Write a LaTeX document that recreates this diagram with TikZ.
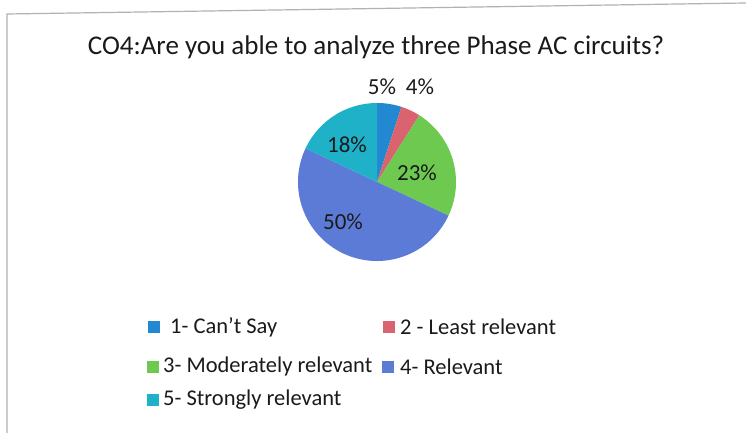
\documentclass[tikz,border=0pt]{standalone}
\usepackage{fontspec}
\setmainfont{Carlito}
\usepackage{tikz}

\definecolor{cantsay}{HTML}{2288D2}
\definecolor{least}{HTML}{D9636F}
\definecolor{moder}{HTML}{6DC94F}
\definecolor{relev}{HTML}{5B7BD6}
\definecolor{strong}{HTML}{1FB1C8}
\definecolor{inkgray}{HTML}{1A1A1A}

\tikzset{
  pct/.style={font=\fontsize{23}{25}\selectfont, text=inkgray, inner sep=0pt},
  legtext/.style={font=\fontsize{22.5}{24}\selectfont, text=inkgray, anchor=west, inner sep=0pt},
  legbox/.style={minimum size=12pt, inner sep=0pt}
}

\begin{document}
\begin{tikzpicture}[x=1pt,y=1pt]
\useasboundingbox (0,0) rectangle (746,433);
\fill[white] (0,0) rectangle (746,433);
% frame
\draw[gray!60, line width=1.2pt] (7,0) -- (7,419) -- (746,430);
% title
\node[font=\fontsize{27}{29}\selectfont, text=inkgray] (title) at (376,386) {CO4:Are you able to analyze three Phase AC circuits?};
% pie
\coordinate (c) at (377,251);
\fill[cantsay] (c) -- ++(90:79) arc (90:72:79) -- cycle;
\fill[least] (c) -- ++(72:79) arc (72:57.6:79) -- cycle;
\fill[moder] (c) -- ++(57.6:79) arc (57.6:-25.2:79) -- cycle;
\fill[relev] (c) -- ++(-25.2:79) arc (-25.2:-205.2:79) -- cycle;
\fill[strong] (c) -- ++(154.8:79) arc (154.8:90:79) -- cycle;
\node[pct] (p1) at (382,346) {5\%};
\node[pct] (p2) at (420,346) {4\%};
\node[pct] (p5) at (347,288) {18\%};
\node[pct] (p3) at (417,260) {23\%};
\node[pct] (p4) at (343,211) {50\%};
% legend
\node[legbox, fill=cantsay] (b1) at (154,106) {};
\node[legtext] (l1) at (170,106) {1- Can't Say};
\node[legbox, fill=least] (b2) at (389,106) {};
\node[legtext] (l2) at (400,106) {2 - Least relevant};
\node[legbox, fill=moder] (b3) at (153,66) {};
\node[legtext] (l3) at (163,66) {3- Moderately relevant};
\node[legbox, fill=relev] (b4) at (388,66) {};
\node[legtext] (l4) at (400,66) {4- Relevant};
\node[legbox, fill=strong] (b5) at (153,33) {};
\node[legtext] (l5) at (163,33) {5- Strongly relevant};
\end{tikzpicture}
\end{document}
